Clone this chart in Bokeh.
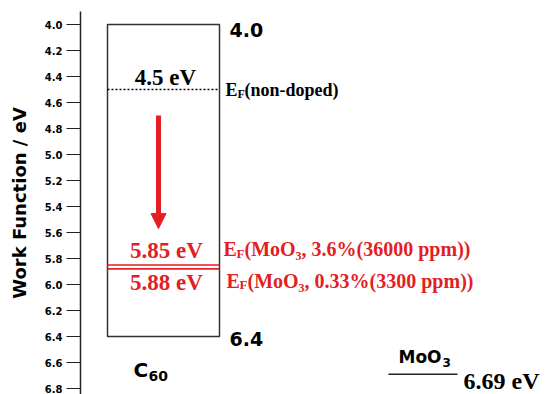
from bokeh.plotting import figure
from bokeh.models import Range1d, FixedTicker, PrintfTickFormatter, Arrow, NormalHead
from bokeh.core.properties import value
from bokeh.embed import file_html
from bokeh.resources import INLINE

# ---- data (eV) ----
y_ticks = [4.0, 4.2, 4.4, 4.6, 4.8, 5.0, 5.2, 5.4, 5.6, 5.8, 6.0, 6.2, 6.4, 6.6, 6.8]
c60_levels = [4.0, 6.4]
c60_level_labels = ["4.0", "6.4"]
ef_nondoped = 4.5
ef_nondoped_label = "4.5 eV"
ef_doped = [5.85, 5.88]
ef_doped_labels = ["5.85 eV", "5.88 eV"]
ef_doped_desc = ["(MoO\u2083, 3.6%(36000 ppm))", "(MoO\u2083, 0.33%(3300 ppm))"]
arrow_from, arrow_to = 4.70, 5.57
moo3_level = 6.69
moo3_label = "6.69 eV"

RED = "#e31e24"
SERIF = value("Liberation Serif")
SANS = value("DejaVu Sans")

# x positions in page pixel units
BOX_L, BOX_R = 107, 219
B = -8  # baseline correction of text glyphs

p = figure(width=547, height=394, output_backend="svg", toolbar_location=None,
           x_range=Range1d(80, 547), y_range=Range1d(6.846, 3.9),
           x_axis_location=None, min_border_left=80, min_border_right=0,
           min_border_top=11, min_border_bottom=0)
p.outline_line_color = None
p.grid.visible = False
p.background_fill_color = "white"

ax = p.yaxis[0]
ax.ticker = FixedTicker(ticks=y_ticks)
ax.formatter = PrintfTickFormatter(format="%.1f")
ax.axis_line_color = "#222222"
ax.axis_line_width = 1.5
ax.major_tick_line_color = "#222222"
ax.major_tick_line_width = 1.2
ax.major_tick_out = 14
ax.major_tick_in = 0
ax.minor_tick_line_color = None
ax.major_label_text_font = "DejaVu Sans"
ax.major_label_text_font_style = "bold"
ax.major_label_text_font_size = "10px"
ax.major_label_text_color = "black"
ax.major_label_standoff = 4
ax.axis_label = "Work Function / eV"
ax.axis_label_text_font = "DejaVu Sans"
ax.axis_label_text_font_style = "bold"
ax.axis_label_text_font_size = "18px"
ax.axis_label_text_color = "black"
ax.axis_label_standoff = 12

# C60 box
p.quad(left=[BOX_L], right=[BOX_R], top=[c60_levels[0]], bottom=[c60_levels[1]],
       fill_alpha=0, line_color="#333333", line_width=1.5)

# non-doped Fermi level
p.segment(x0=[BOX_L], x1=[BOX_R], y0=[ef_nondoped], y1=[ef_nondoped],
          line_color="black", line_width=1.3, line_dash="2 2")
# doped Fermi levels
p.segment(x0=[BOX_L] * 2, x1=[BOX_R] * 2, y0=ef_doped, y1=ef_doped,
          line_color=RED, line_width=1.6)

# arrow
p.add_layout(Arrow(end=NormalHead(size=15, fill_color=RED, line_color=RED),
                   x_start=158, y_start=arrow_from, x_end=158, y_end=arrow_to,
                   line_color=RED, line_width=5))

# MoO3 level
p.segment(x0=[388], x1=[457], y0=[moo3_level], y1=[moo3_level],
          line_color="#222222", line_width=1.5)

def txt(x, y, t, font, size, color="black", align="left", yoff=0, style="bold"):
    p.text(x=x, y=y, text=t, text_font=font, text_font_size=size, text_font_style=style,
           text_color=color, text_align=align, text_baseline="alphabetic", y_offset=yoff + B)

# C60 level labels
txt([229], [c60_levels[0]], [c60_level_labels[0]], SANS, "19px", yoff=13)
txt([229], [c60_levels[1]], [c60_level_labels[1]], SANS, "19px", yoff=10)
# C60 name
txt([133], [c60_levels[1]], ["C"], SANS, "20px", yoff=41)
txt([148], [c60_levels[1]], ["60"], SANS, "14px", yoff=47)

# non-doped labels
txt([165], [ef_nondoped], [ef_nondoped_label], SERIF, "23px", align="center", yoff=-4)
txt([225], [ef_nondoped], ["E"], SERIF, "18px", yoff=8)
txt([237], [ef_nondoped], ["F"], SERIF, "12px", yoff=12)
txt([244], [ef_nondoped], ["(non-doped)"], SERIF, "18px", yoff=8)

# doped labels
txt([166], [ef_doped[0]], [ef_doped_labels[0]], SERIF, "23px", color=RED, align="center", yoff=-7)
txt([166], [ef_doped[1]], [ef_doped_labels[1]], SERIF, "23px", color=RED, align="center", yoff=22)
txt([223], [ef_doped[0]], ["E"], SERIF, "20px", color=RED, yoff=-8)
txt([236], [ef_doped[0]], ["F"], SERIF, "13px", color=RED, yoff=-4)
txt([244], [ef_doped[0]], [ef_doped_desc[0]], SERIF, "20px", color=RED, yoff=-8)
txt([226], [ef_doped[1]], ["E"], SERIF, "20px", color=RED, yoff=20)
txt([239], [ef_doped[1]], ["F"], SERIF, "13px", color=RED, yoff=24)
txt([247], [ef_doped[1]], [ef_doped_desc[1]], SERIF, "20px", color=RED, yoff=20)

# MoO3 labels
txt([398], [moo3_level], ["MoO"], SANS, "17px", yoff=-9)
txt([442], [moo3_level], ["3"], SANS, "12px", yoff=-4)
txt([463], [moo3_level], [moo3_label], SERIF, "24px", yoff=15)

open("out.html", "w").write(file_html(p, INLINE))
